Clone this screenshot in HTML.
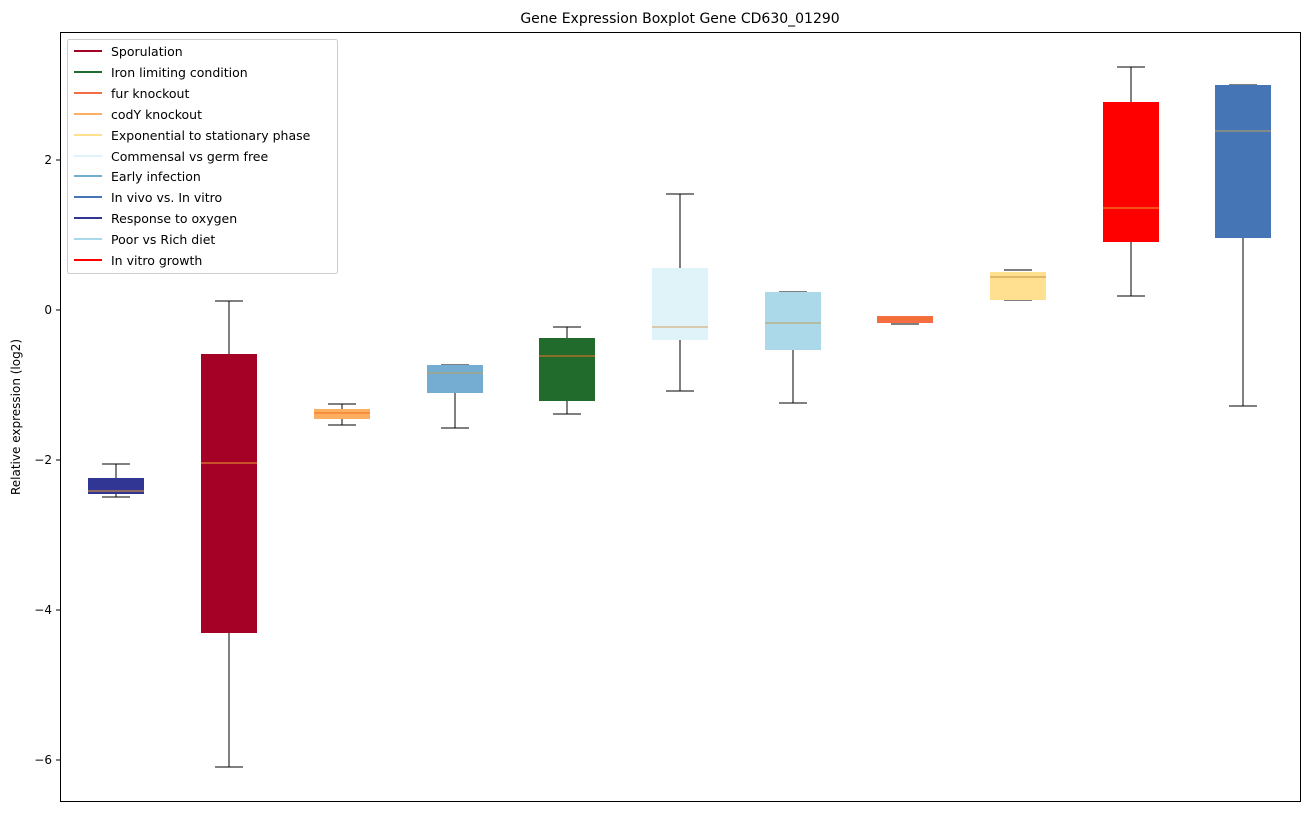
<!DOCTYPE html>
<html><head><style>
body{margin:0;background:#fff;}
svg text{font-family:"DejaVu Sans","Liberation Sans",sans-serif;}
</style></head><body>
<svg width="1309" height="812" xmlns="http://www.w3.org/2000/svg">
<rect width="1309" height="812" fill="#fff"/>
<text x="680" y="23" font-size="14" text-anchor="middle">Gene Expression Boxplot Gene CD630_01290</text>
<g shape-rendering="crispEdges">
<!-- 1 -->
<line x1="116" y1="464" x2="116" y2="478" stroke="#000"/><line x1="116" y1="494" x2="116" y2="497" stroke="#000"/>
<line x1="102" y1="464" x2="130" y2="464" stroke="#000"/><line x1="102" y1="497" x2="130" y2="497" stroke="#000"/>
<rect x="88" y="478" width="56" height="16" fill="#313695"/><line x1="88" y1="491" x2="144" y2="491" stroke="#f0a030"/>
<!-- 2 -->
<line x1="229" y1="301" x2="229" y2="354" stroke="#000"/><line x1="229" y1="633" x2="229" y2="767" stroke="#000"/>
<line x1="215" y1="301" x2="243" y2="301" stroke="#000"/><line x1="215" y1="767" x2="243" y2="767" stroke="#000"/>
<rect x="201" y="354" width="56" height="279" fill="#a50026"/><line x1="201" y1="463" x2="257" y2="463" stroke="#f0a030"/>
<!-- 3 -->
<line x1="342" y1="404" x2="342" y2="425" stroke="#000"/>
<line x1="328" y1="404" x2="356" y2="404" stroke="#000"/><line x1="328" y1="425" x2="356" y2="425" stroke="#000"/>
<rect x="314" y="409" width="56" height="10" fill="#fdae61"/><line x1="314" y1="413" x2="370" y2="413" stroke="#f07020"/>
<!-- 4 -->
<line x1="455" y1="393" x2="455" y2="428" stroke="#000"/>
<line x1="441" y1="365" x2="469" y2="365" stroke="#000"/><line x1="441" y1="428" x2="469" y2="428" stroke="#000"/>
<rect x="427" y="365" width="56" height="28" fill="#74add1"/><line x1="427" y1="373" x2="483" y2="373" stroke="#c0a060"/>
<!-- 5 -->
<line x1="567" y1="327" x2="567" y2="414" stroke="#000"/>
<line x1="553" y1="327" x2="581" y2="327" stroke="#000"/><line x1="553" y1="414" x2="581" y2="414" stroke="#000"/>
<rect x="539" y="338" width="56" height="63" fill="#216b2d"/><line x1="539" y1="356" x2="595" y2="356" stroke="#f07020"/>
<!-- 6 -->
<line x1="680" y1="194" x2="680" y2="391" stroke="#000"/>
<line x1="666" y1="194" x2="694" y2="194" stroke="#000"/><line x1="666" y1="391" x2="694" y2="391" stroke="#000"/>
<rect x="652" y="268" width="56" height="72" fill="#e0f3f8"/><line x1="652" y1="327" x2="708" y2="327" stroke="#d0a060"/>
<!-- 7 -->
<line x1="793" y1="292" x2="793" y2="403" stroke="#000"/>
<line x1="779" y1="292" x2="807" y2="292" stroke="#000"/><line x1="779" y1="403" x2="807" y2="403" stroke="#000"/>
<rect x="765" y="292" width="56" height="58" fill="#abd9e9"/><line x1="765" y1="323" x2="821" y2="323" stroke="#c0a060"/>
<!-- 8 -->
<line x1="891" y1="324" x2="919" y2="324" stroke="#000"/>
<rect x="877" y="316" width="56" height="7" fill="#f46d43"/><line x1="877" y1="319" x2="933" y2="319" stroke="#f07020"/>
<!-- 9 -->
<line x1="1004" y1="270" x2="1032" y2="270" stroke="#000"/><line x1="1004" y1="300" x2="1032" y2="300" stroke="#000"/>
<rect x="990" y="272" width="56" height="28" fill="#fee090"/><line x1="990" y1="277" x2="1046" y2="277" stroke="#c09040"/>
<!-- 10 -->
<line x1="1131" y1="67" x2="1131" y2="296" stroke="#000"/>
<line x1="1117" y1="67" x2="1145" y2="67" stroke="#000"/><line x1="1117" y1="296" x2="1145" y2="296" stroke="#000"/>
<rect x="1103" y="102" width="56" height="140" fill="#ff0000"/><line x1="1103" y1="208" x2="1159" y2="208" stroke="#f0a030"/>
<!-- 11 -->
<line x1="1243" y1="238" x2="1243" y2="406" stroke="#000"/>
<line x1="1229" y1="85" x2="1257" y2="85" stroke="#000"/><line x1="1229" y1="406" x2="1257" y2="406" stroke="#000"/>
<rect x="1215" y="85" width="56" height="153" fill="#4575b4"/><line x1="1215" y1="131" x2="1271" y2="131" stroke="#c0a060"/>
</g>
<rect x="60.5" y="32.5" width="1240" height="769" fill="none" stroke="#000"/>
<g stroke="#000" shape-rendering="crispEdges"><line x1="56" y1="160" x2="60" y2="160"/><line x1="56" y1="310" x2="60" y2="310"/><line x1="56" y1="460" x2="60" y2="460"/><line x1="56" y1="610" x2="60" y2="610"/><line x1="56" y1="760" x2="60" y2="760"/></g>
<g font-size="12" text-anchor="end"><text x="52" y="164">2</text><text x="52" y="314">0</text><text x="52" y="464">−2</text><text x="52" y="614">−4</text><text x="52" y="764">−6</text></g>
<text transform="translate(20,417) rotate(-90)" font-size="12" text-anchor="middle">Relative expression (log2)</text>
<rect x="67.5" y="39.5" width="270" height="234" rx="2" fill="#fff" stroke="#ccc"/>
<g font-size="12.5" stroke-width="2">
<line x1="74" y1="51" x2="102" y2="51" stroke="#a50026"/><text x="111" y="56">Sporulation</text>
<line x1="74" y1="72" x2="102" y2="72" stroke="#216b2d"/><text x="111" y="77">Iron limiting condition</text>
<line x1="74" y1="93" x2="102" y2="93" stroke="#f46d43"/><text x="111" y="98">fur knockout</text>
<line x1="74" y1="114" x2="102" y2="114" stroke="#fdae61"/><text x="111" y="119">codY knockout</text>
<line x1="74" y1="135" x2="102" y2="135" stroke="#fee090"/><text x="111" y="140">Exponential to stationary phase</text>
<line x1="74" y1="156" x2="102" y2="156" stroke="#e0f3f8"/><text x="111" y="161">Commensal vs germ free</text>
<line x1="74" y1="176" x2="102" y2="176" stroke="#74add1"/><text x="111" y="181">Early infection</text>
<line x1="74" y1="197" x2="102" y2="197" stroke="#4575b4"/><text x="111" y="202">In vivo vs. In vitro</text>
<line x1="74" y1="218" x2="102" y2="218" stroke="#313695"/><text x="111" y="223">Response to oxygen</text>
<line x1="74" y1="239" x2="102" y2="239" stroke="#abd9e9"/><text x="111" y="244">Poor vs Rich diet</text>
<line x1="74" y1="260" x2="102" y2="260" stroke="#ff0000"/><text x="111" y="265">In vitro growth</text>
</g>
</svg>
</body></html>
